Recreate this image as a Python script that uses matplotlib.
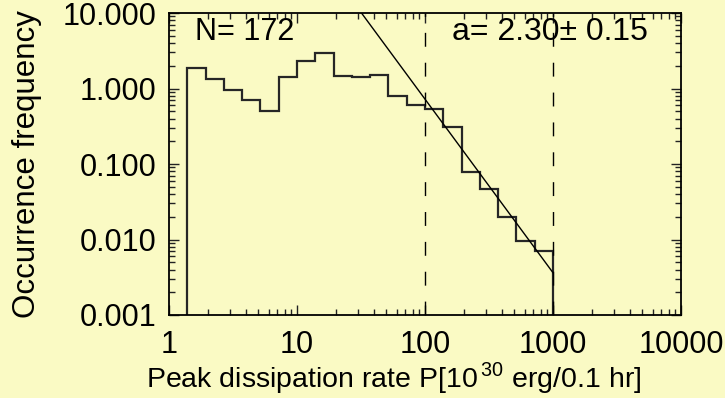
import matplotlib
matplotlib.use("Agg")
import matplotlib.pyplot as plt
from matplotlib.ticker import LogLocator, FixedFormatter, FixedLocator, NullFormatter

plt.rcParams['font.family'] = ['Liberation Sans', 'DejaVu Sans']
plt.rcParams['mathtext.fontset'] = 'custom'
plt.rcParams['mathtext.rm'] = 'Liberation Sans'

# histogram (log-spaced bins)
bin_edges = [1.39, 1.93, 2.68, 3.73, 5.18, 7.20, 10.0, 13.9, 19.3, 26.8, 37.3,
             51.8, 72.0, 100, 139, 193, 268, 373, 518, 720, 1000]
freq = [1.85, 1.32, 0.96, 0.70, 0.50, 1.43, 2.31, 2.98, 1.45, 1.42, 1.51,
        0.79, 0.60, 0.54, 0.31, 0.078, 0.047, 0.020, 0.0096, 0.0070]

# power-law fit, slope -2.30
fit_x = [31.9, 1000]
fit_y = [10.0, 0.00363]
fit_range = [100, 1000]

n_events = 172
alpha, alpha_err = 2.30, 0.15

xticks = [1, 10, 100, 1000, 10000]
xlabels = ['1', '10', '100', '1000', '10000']
yticks = [0.001, 0.01, 0.1, 1, 10]
ylabels = ['0.001', '0.010', '0.100', '1.000', '10.000']

bg = '#FAFAC4'
fig = plt.figure(figsize=(7.25, 3.98), dpi=100, facecolor=bg)
ax = fig.add_axes([169/725, 1 - 315/398, 512/725, 302/398], facecolor=bg)

ax.set_xscale('log')
ax.set_yscale('log')
ax.set_xlim(1, 10000)
ax.set_ylim(0.001, 10)

ax.stairs(freq, bin_edges, baseline=0.001, color='#262626', lw=1.6)
ax.plot(fit_x, fit_y, color='black', lw=1.0)
for xv in fit_range:
    ax.axvline(xv, color='black', lw=1.0, dashes=(10, 11.5))

ax.xaxis.set_major_locator(FixedLocator(xticks))
ax.xaxis.set_major_formatter(FixedFormatter(xlabels))
ax.yaxis.set_major_locator(FixedLocator(yticks))
ax.yaxis.set_major_formatter(FixedFormatter(ylabels))
ax.xaxis.set_minor_locator(LogLocator(base=10, subs=range(2, 10)))
ax.yaxis.set_minor_locator(LogLocator(base=10, subs=range(2, 10)))
ax.xaxis.set_minor_formatter(NullFormatter())
ax.yaxis.set_minor_formatter(NullFormatter())

ax.tick_params(which='both', direction='in', top=True, right=True,
               labelsize=22, width=1.0, color='#222222')
ax.tick_params(which='major', length=7.2)
ax.tick_params(which='minor', length=4.3)
ax.tick_params(axis='y', pad=9)
ax.tick_params(axis='x', pad=11)
for sp in ax.spines.values():
    sp.set_linewidth(1.3)

ax.text(0.051, 0.937, f'N= {n_events}', transform=ax.transAxes,
        fontsize=22, ha='left', va='center')
ax.text(0.552, 0.937, f'a= {alpha:.2f}\u00b1 {alpha_err:.2f}',
        transform=ax.transAxes, fontsize=23, ha='left', va='center')

fig.text(27/725, 1 - 164/398, 'Occurrence frequency', rotation=90,
         fontsize=22.5, ha='center', va='center')
fig.text(394/725, 1 - 378/398, 'Peak dissipation rate P[10$^{\\,30}$ erg/0.1 hr]',
         fontsize=20.5, ha='center', va='center')

fig.savefig('out.png', dpi=100, facecolor=bg)
